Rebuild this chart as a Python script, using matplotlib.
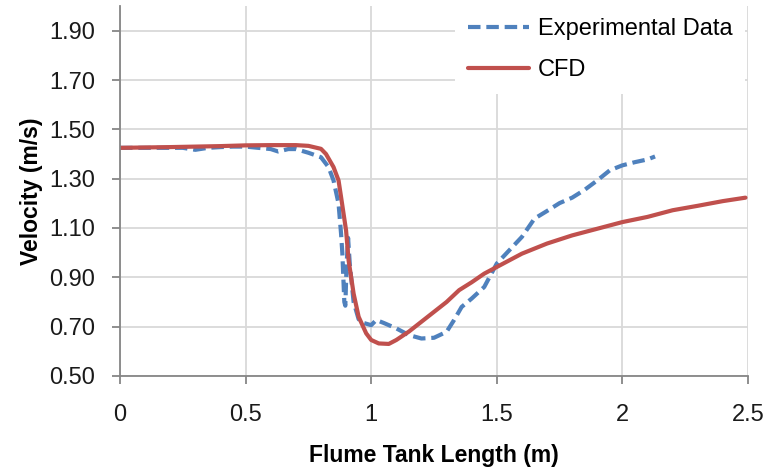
import matplotlib
matplotlib.use("Agg")
import matplotlib.pyplot as plt
import numpy as np

plt.rcParams['font.family'] = ['Liberation Sans', 'DejaVu Sans']

# Experimental data (blue dashed)
exp_x = [0.0, 0.1, 0.2, 0.25, 0.3, 0.35, 0.4, 0.45, 0.5, 0.55, 0.6, 0.63, 0.67, 0.7, 0.75,
         0.8, 0.83, 0.85, 0.87, 0.88, 0.885, 0.893, 0.897, 0.902, 0.908, 0.915, 0.93, 0.95,
         0.97, 1.0, 1.02, 1.05, 1.1, 1.15, 1.2, 1.25, 1.3, 1.33, 1.36, 1.4, 1.45, 1.5,
         1.55, 1.6, 1.65, 1.7, 1.75, 1.8, 1.85, 1.9, 1.95, 2.0, 2.05, 2.1, 2.13]
exp_y = [1.425, 1.425, 1.425, 1.425, 1.417, 1.425, 1.428, 1.43, 1.43, 1.425, 1.42, 1.41, 1.42,
         1.42, 1.405, 1.387, 1.347, 1.293, 1.199, 1.077, 1.0, 0.80, 0.785, 0.95, 1.06, 0.95,
         0.80, 0.73, 0.715, 0.706, 0.727, 0.715, 0.693, 0.666, 0.652, 0.655, 0.679, 0.727,
         0.78, 0.814, 0.861, 0.956, 1.01, 1.064, 1.138, 1.169, 1.201, 1.223, 1.255, 1.293,
         1.334, 1.354, 1.367, 1.378, 1.39]

# CFD (red solid)
cfd_x = [0.0, 0.2, 0.4, 0.5, 0.6, 0.7, 0.75, 0.8, 0.82, 0.85, 0.87, 0.88, 0.9, 0.91, 0.93,
         0.95, 0.98, 1.0, 1.03, 1.07, 1.1, 1.15, 1.2, 1.25, 1.3, 1.35, 1.4, 1.45, 1.5, 1.6,
         1.7, 1.8, 1.9, 2.0, 2.1, 2.2, 2.3, 2.4, 2.49]
cfd_y = [1.425, 1.428, 1.432, 1.435, 1.436, 1.436, 1.433, 1.421, 1.40, 1.347, 1.293, 1.226,
         1.09, 0.969, 0.834, 0.74, 0.673, 0.646, 0.632, 0.630, 0.646, 0.68, 0.72, 0.76, 0.80,
         0.848, 0.88, 0.915, 0.942, 0.996, 1.037, 1.07, 1.097, 1.124, 1.145, 1.172, 1.19,
         1.209, 1.223]

x_ticks = [0, 0.5, 1, 1.5, 2, 2.5]
x_tick_labels = ['0', '0.5', '1', '1.5', '2', '2.5']
y_ticks = [0.50, 0.70, 0.90, 1.10, 1.30, 1.50, 1.70, 1.90]

fig = plt.figure(figsize=(7.65, 4.68), dpi=100)
ax = fig.add_axes([120/765, 1-376/468, 628/765, 370/468])

ax.plot(exp_x, exp_y, color='#4f81bd', lw=3, dashes=(3, 1.4), label='Experimental Data')
ax.plot(cfd_x, cfd_y, color='#c0504d', lw=3, label='CFD', solid_capstyle='round')

ax.set_xlim(0, 2.5)
ax.set_ylim(0.5, 2.0)
ax.set_xticks(x_ticks)
ax.set_xticklabels(x_tick_labels)
ax.set_yticks(y_ticks)
ax.set_yticklabels([f'{v:.2f}' for v in y_ticks])

ax.grid(True, color='#d9d9d9', lw=1.3)
ax.set_axisbelow(True)
for s in ['top', 'right']:
    ax.spines[s].set_visible(False)
for s in ['left', 'bottom']:
    ax.spines[s].set_color('#868686')
    ax.spines[s].set_linewidth(1.3)

ax.tick_params(axis='both', direction='out', length=6, width=1.3, color='#868686',
               labelsize=17, labelcolor='#1a1a1a')
ax.tick_params(axis='y', pad=12)
ax.tick_params(axis='x', pad=14)

ax.set_xlabel('Flume Tank Length (m)', fontsize=16.5, fontweight='bold', labelpad=13)
ax.set_ylabel('Velocity (m/s)', fontsize=16.5, fontweight='bold', labelpad=4)

leg = ax.legend(loc='upper left', bbox_to_anchor=(455/765, 1 - 5/468),
                bbox_transform=fig.transFigure, fontsize=17, frameon=True,
                facecolor='white', edgecolor='none', framealpha=1, fancybox=False,
                handlelength=2.6, handletextpad=0.35, labelspacing=0.8, borderpad=0.55,
                borderaxespad=0)

fig.savefig('out.png', dpi=100)
